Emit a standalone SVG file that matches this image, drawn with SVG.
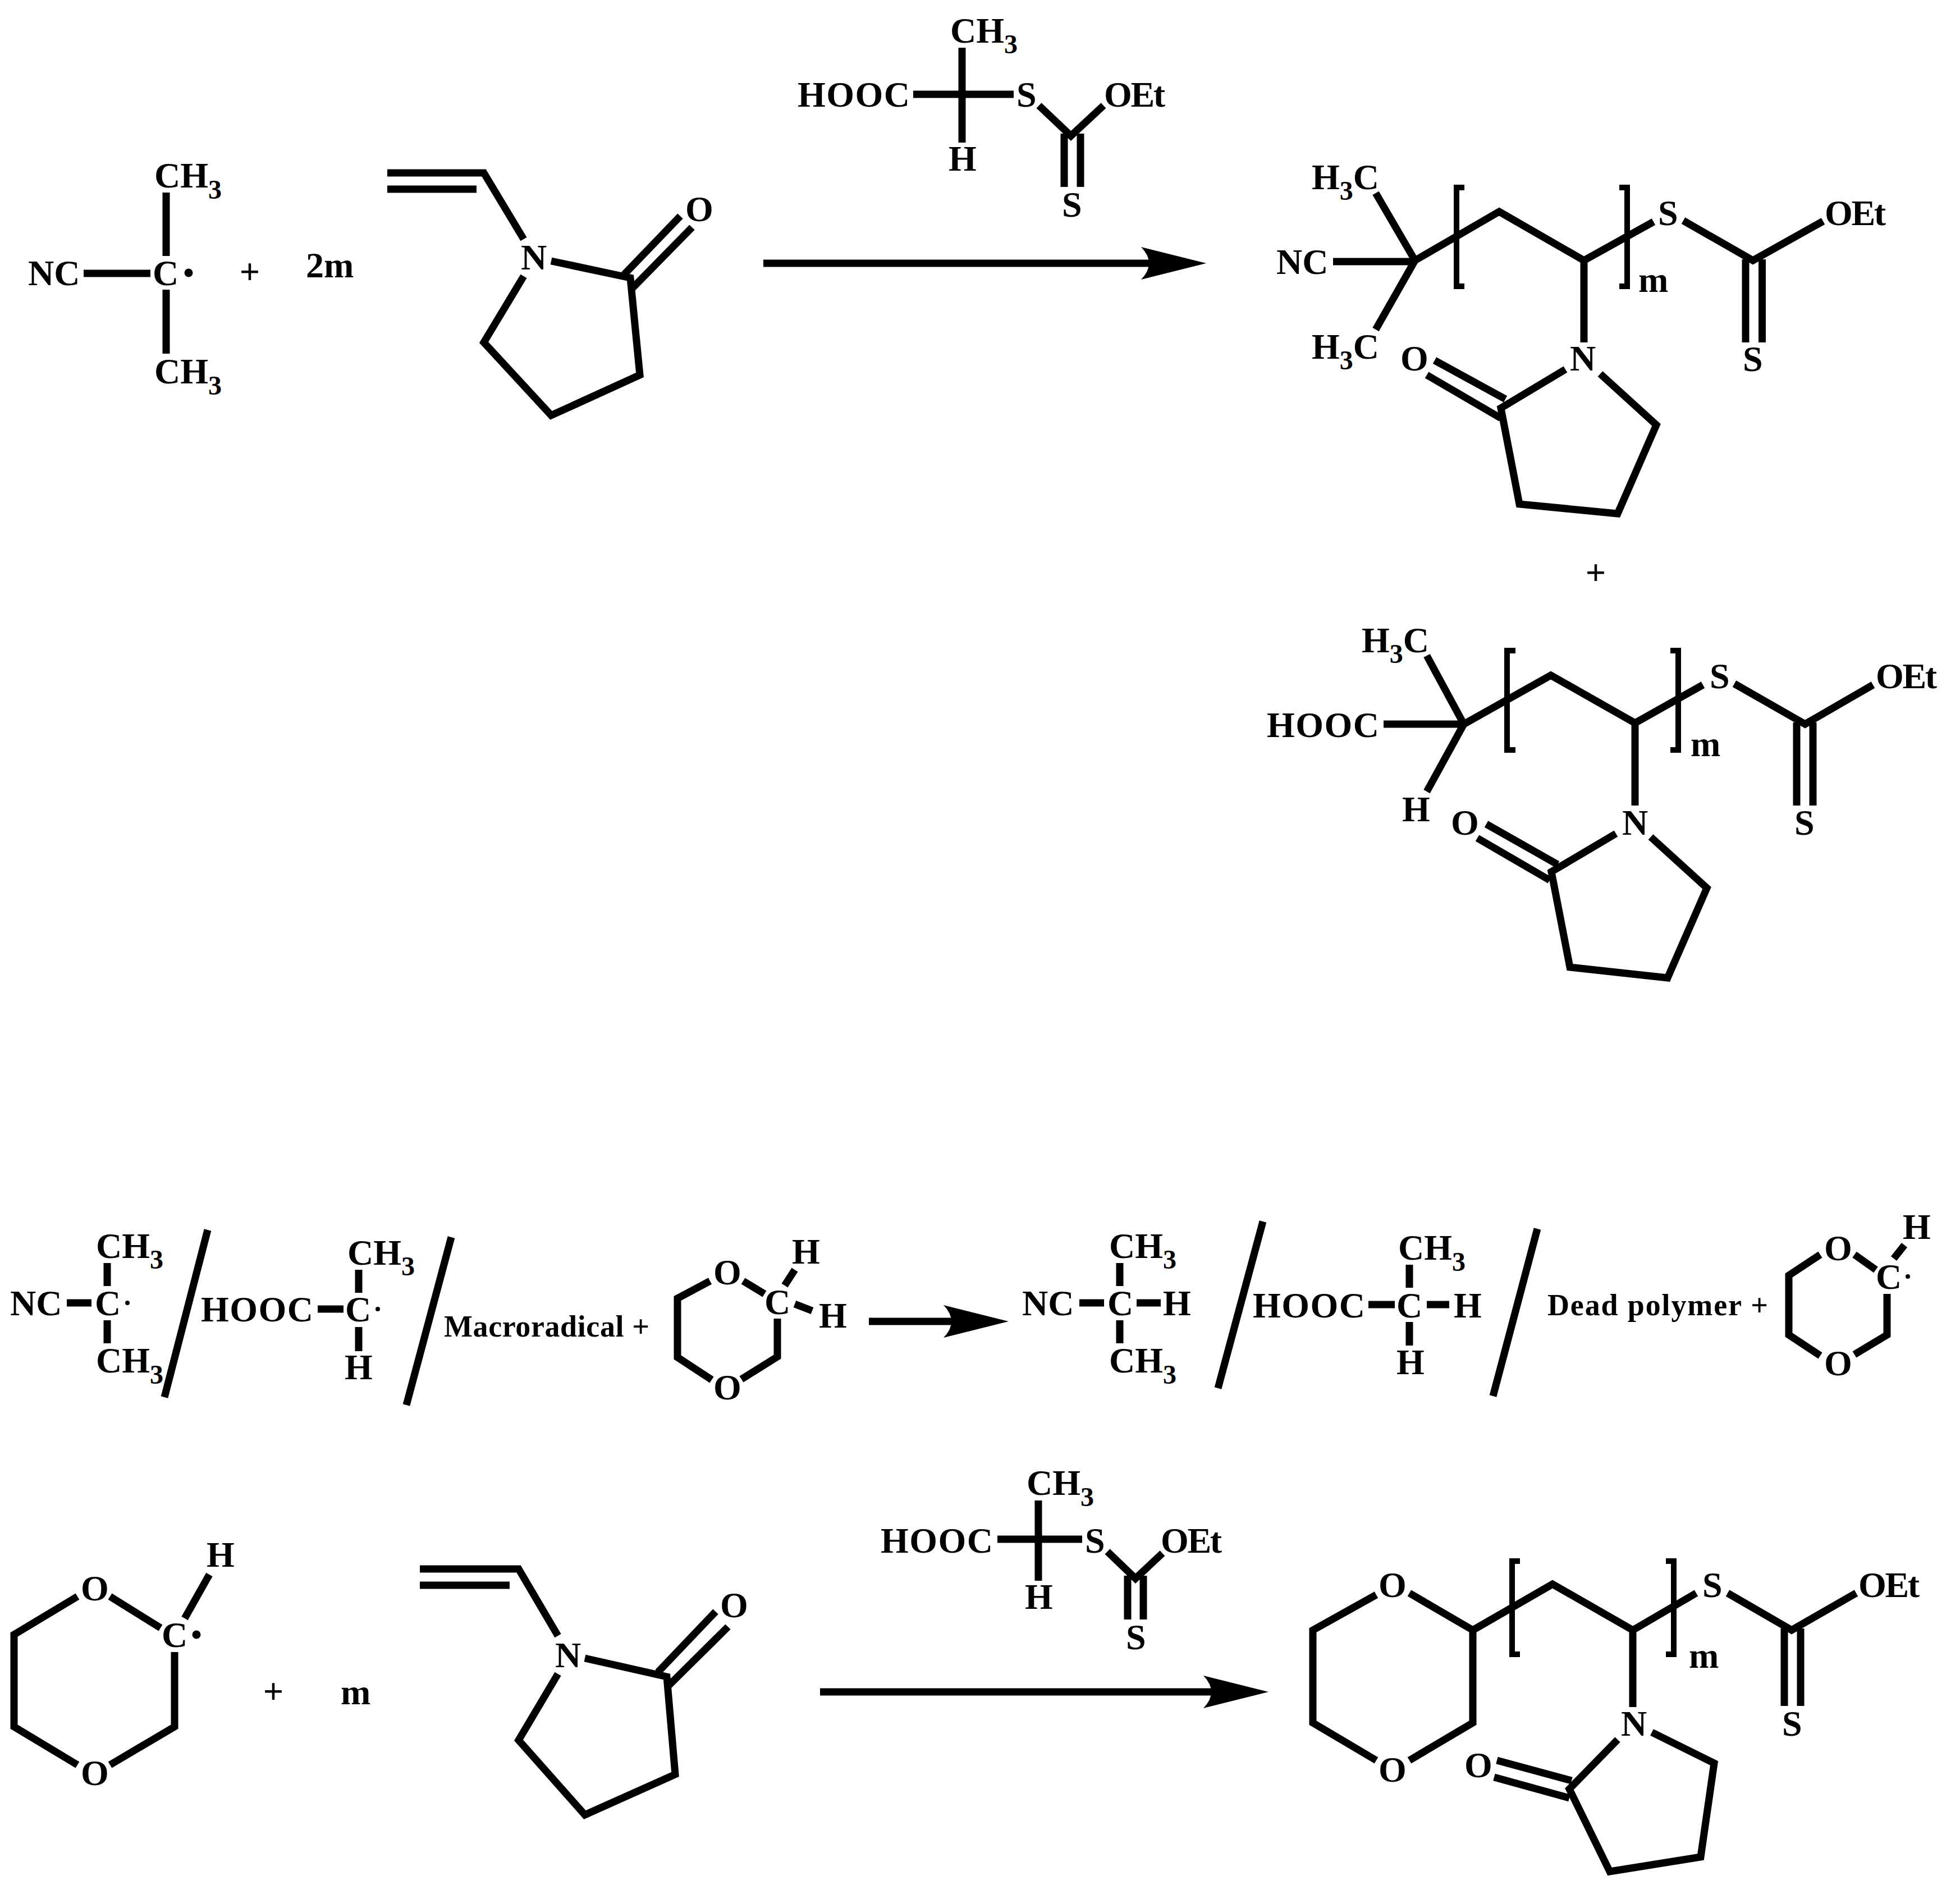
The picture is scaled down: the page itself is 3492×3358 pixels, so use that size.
<svg xmlns="http://www.w3.org/2000/svg" width="3492" height="3358" viewBox="0 0 3492 3358">
<defs>
<style>
.t{font-family:"Liberation Serif","Times New Roman",serif;font-weight:bold;font-size:64px;fill:#000}
.u{font-size:48px}
.l{font-size:54px}
.b{fill:none;stroke:#000;stroke-width:13;stroke-linejoin:miter;stroke-linecap:butt}
.k{fill:none;stroke:#000;stroke-width:10;stroke-linejoin:miter;stroke-linecap:butt}
.m{text-anchor:middle}
</style>
<marker id="head" markerUnits="userSpaceOnUse" markerWidth="116" markerHeight="60" refX="14" refY="30" orient="auto" viewBox="0 0 116 60">
<path d="M0 1Q28 30 0 59L116 30Z" fill="#000"/>
</marker>
</defs>
<rect width="3492" height="3358" fill="#fff"/>

<g id="connectors">
<path class="b" d="M1360 469H2047" marker-end="url(#head)"/>
<path class="b" d="M1548 2354H1695" marker-end="url(#head)"/>
<path class="b" d="M1461 3014H2158" marker-end="url(#head)"/>
</g>

<g id="cyanopropyl-radical">
<path class="b" d="M296 343V456M296 516V630M149 487H268"/>
<text class="t" x="275" y="334">CH<tspan class="u" dy="20">3</tspan></text>
<text class="t" x="50" y="508">NC</text>
<text class="t" x="272" y="508">C</text>
<circle cx="336" cy="486" r="7.5"/>
<text class="t" x="275" y="683">CH<tspan class="u" dy="20">3</tspan></text>
</g>
<text id="plus-1" class="t m" x="445" y="505">+</text>
<text id="coef-2m" class="t" x="545" y="494">2m</text>

<g id="nvp-1">
<path class="b" d="M690 308H862L933 426M690 337H849"/>
<path class="b" d="M982 465L1123 495L1140 668L982 740L862 610L933 492"/>
<path class="b" d="M1111 490L1212 385M1127 513L1233 405"/>
<text class="t" x="928" y="480">N</text>
<text class="t" x="1221" y="394">O</text>
</g>

<g id="raft-agent-1">
<path class="b" d="M1714 85V254M1627 168H1806"/>
<path class="b" d="M1851 188L1908 242L1966 188M1896 238V333M1925 238V333"/>
<text class="t" x="1693" y="76">CH<tspan class="u" dy="19">3</tspan></text>
<text class="t" x="1421" y="190" textLength="200">HOOC</text>
<text class="t" x="1811" y="190">S</text>
<text class="t" x="1967" y="190" textLength="109">OEt</text>
<text class="t" x="1690" y="304">H</text>
<text class="t" x="1892" y="386">S</text>
</g>

<g id="product-1">
<path class="b" d="M2451 344L2521 464L2451 587M2375 466H2521"/>
<path class="b" d="M2521 464L2671 377L2822 464L2946 395M2999 393L3123 464L3248 394M2822 464V610M3110 462V610M3139.500 462V610"/>
<path class="k" d="M2609 334H2595V510H2609M2885 334H2899V510H2885"/>
<path class="b" d="M2789 658L2674 727L2707 898L2882 915L2951 757L2851 666M2556 642L2682 711M2542 668L2674 745"/>
<text class="t" x="2337" y="337">H<tspan class="u" dy="19">3</tspan><tspan dy="-19">C</tspan></text>
<text class="t" x="2337" y="639">H<tspan class="u" dy="19">3</tspan><tspan dy="-19">C</tspan></text>
<text class="t" x="2274" y="488">NC</text>
<text class="t" x="2954" y="401">S</text>
<text class="t" x="3251" y="401" textLength="109">OEt</text>
<text class="t" x="2919" y="520">m</text>
<text class="t" x="2797" y="660">N</text>
<text class="t" x="3105" y="661">S</text>
<text class="t" x="2495" y="660">O</text>
</g>
<text id="plus-2" class="t m" x="2843" y="1041">+</text>

<g id="product-2">
<path class="b" d="M2542 1168L2608 1290L2542 1410M2465 1290H2612"/>
<path class="b" d="M2608 1290L2763 1203L2913 1288L3034 1220M3090 1218L3216 1290L3337 1220M2913 1288V1435M3201 1287V1435M3230 1287V1435"/>
<path class="k" d="M2700 1159H2685V1336H2700M2976 1159H2990V1336H2976"/>
<path class="b" d="M2879 1485L2764 1553L2797 1723L2971 1742L3041 1582L2941 1491M2648 1468L2775 1540M2632 1493L2761 1568"/>
<text class="t" x="2426" y="1162">H<tspan class="u" dy="19">3</tspan><tspan dy="-19">C</tspan></text>
<text class="t" x="2257" y="1313" textLength="200">HOOC</text>
<text class="t" x="2498" y="1463">H</text>
<text class="t" x="3046" y="1226">S</text>
<text class="t" x="3342" y="1226" textLength="109">OEt</text>
<text class="t" x="3012" y="1347">m</text>
<text class="t" x="2890" y="1487">N</text>
<text class="t" x="3197" y="1487">S</text>
<text class="t m" x="2610" y="1487">O</text>
</g>

<g id="radical-a">
<path class="b" d="M191 2250V2291M191 2352V2393M119 2321H163"/>
<text class="t" x="171" y="2241">CH<tspan class="u" dy="19">3</tspan></text>
<text class="t" x="18" y="2343">NC</text>
<text class="t" x="169" y="2343">C</text>
<circle cx="227" cy="2321" r="4"/>
<text class="t" x="171" y="2445">CH<tspan class="u" dy="20">3</tspan></text>
</g>
<path id="slash-1" class="b" d="M370 2191L293 2489"/>
<g id="radical-b">
<path class="b" d="M639 2262V2303M639 2364V2407M566 2332H612"/>
<text class="t" x="619" y="2253">CH<tspan class="u" dy="19">3</tspan></text>
<text class="t" x="358" y="2354" textLength="200">HOOC</text>
<text class="t" x="615" y="2354">C</text>
<circle cx="673" cy="2332" r="4"/>
<text class="t" x="614" y="2457">H</text>
</g>
<path id="slash-2" class="b" d="M804 2204L724 2503"/>
<text id="macroradical" class="t l" x="791" y="2381" textLength="366">Macroradical +</text>

<g id="dioxane-1">
<path class="b" d="M1265 2282L1207 2313V2418L1268 2458M1324 2282L1362 2305M1385 2349V2417L1321 2457M1416 2262L1398 2290M1416 2323L1447 2335"/>
<text class="t m" x="1296" y="2288">O</text>
<text class="t m" x="1296" y="2493">O</text>
<text class="t" x="1362" y="2341">C</text>
<text class="t" x="1411" y="2251">H</text>
<text class="t" x="1459" y="2365">H</text>
</g>

<g id="product-a">
<path class="b" d="M1995 2250V2291M1995 2352V2393M1923 2321H1967M2025 2321H2068"/>
<text class="t" x="1976" y="2241">CH<tspan class="u" dy="19">3</tspan></text>
<text class="t" x="1821" y="2343">NC</text>
<text class="t" x="1973" y="2343">C</text>
<text class="t" x="2072" y="2343">H</text>
<text class="t" x="1976" y="2445">CH<tspan class="u" dy="20">3</tspan></text>
</g>
<path id="slash-3" class="b" d="M2250 2176L2170 2473"/>
<g id="product-b">
<path class="b" d="M2511 2253V2294M2511 2355V2397M2438 2324H2485M2542 2324H2582"/>
<text class="t" x="2491" y="2244">CH<tspan class="u" dy="20">3</tspan></text>
<text class="t" x="2232" y="2347" textLength="200">HOOC</text>
<text class="t" x="2488" y="2347">C</text>
<text class="t" x="2590" y="2347">H</text>
<text class="t" x="2488" y="2448">H</text>
</g>
<path id="slash-4" class="b" d="M2739 2189L2660 2487"/>
<text id="dead-polymer" class="t l" x="2757" y="2343" textLength="393">Dead polymer +</text>

<g id="dioxane-radical-1">
<path class="b" d="M3243 2235L3187 2272V2378L3243 2415M3304 2235L3342 2262M3362 2305V2378L3304 2413M3393 2218L3374 2242"/>
<text class="t m" x="3275" y="2245">O</text>
<text class="t m" x="3275" y="2450">O</text>
<text class="t" x="3342" y="2296">C</text>
<circle cx="3399" cy="2274" r="4"/>
<text class="t" x="3390" y="2207">H</text>
</g>

<g id="dioxane-radical-2">
<path class="b" d="M138 2844L25 2912V3076L138 3144M196 2844L286 2900M311 2943V3076L196 3144M373 2805L329 2883"/>
<text class="t m" x="169" y="2851">O</text>
<text class="t m" x="169" y="3180">O</text>
<text class="t" x="288" y="2934">C</text>
<circle cx="350" cy="2912" r="7.5"/>
<text class="t" x="368" y="2791">H</text>
</g>
<text id="plus-3" class="t m" x="487" y="3034">+</text>
<text id="coef-m" class="t" x="607" y="3036">m</text>

<g id="nvp-2">
<path class="b" d="M748 2795H924L994 2914M748 2824H908"/>
<path class="b" d="M1042 2954L1188 2987L1203 3161L1042 3233L924 3100L994 2982"/>
<path class="b" d="M1172 2979L1275 2871M1190 3004L1297 2898"/>
<text class="t" x="989" y="2970">N</text>
<text class="t m" x="1308" y="2881">O</text>
</g>

<g id="raft-agent-2">
<path class="b" d="M1850 2673V2816M1777 2742H1928"/>
<path class="b" d="M1973 2764L2023 2812L2071 2767M2009 2807V2885M2037 2807V2885"/>
<text class="t" x="1829" y="2663">CH<tspan class="u" dy="20">3</tspan></text>
<text class="t" x="1569" y="2766" textLength="200">HOOC</text>
<text class="t" x="1933" y="2766">S</text>
<text class="t" x="2068" y="2766" textLength="109">OEt</text>
<text class="t" x="1826" y="2866">H</text>
<text class="t" x="2006" y="2938">S</text>
</g>

<g id="product-3">
<path class="b" d="M2452 2841L2339 2904V3069L2452 3136M2511 2838L2624 2904V3069L2511 3136"/>
<path class="b" d="M2624 2904L2766 2822L2909 2904L3022 2838M3078 2838L3192 2904L3307 2838M2909 2904V3041M3179 2901V3039M3208 2901V3039"/>
<path class="k" d="M2708 2781H2694V2947H2708M2968 2781H2982V2947H2968"/>
<path class="b" d="M2882 3099L2796 3187L2868 3334L3030 3308L3054 3141L2943 3086M2667 3136L2800 3172M2662 3166L2796 3203"/>
<text class="t m" x="2481" y="2845">O</text>
<text class="t m" x="2481" y="3174">O</text>
<text class="t" x="3033" y="2845">S</text>
<text class="t" x="3311" y="2845" textLength="109">OEt</text>
<text class="t" x="3009" y="2971">m</text>
<text class="t" x="2888" y="3092">N</text>
<text class="t" x="3175" y="3092">S</text>
<text class="t m" x="2634" y="3166">O</text>
</g>
</svg>
